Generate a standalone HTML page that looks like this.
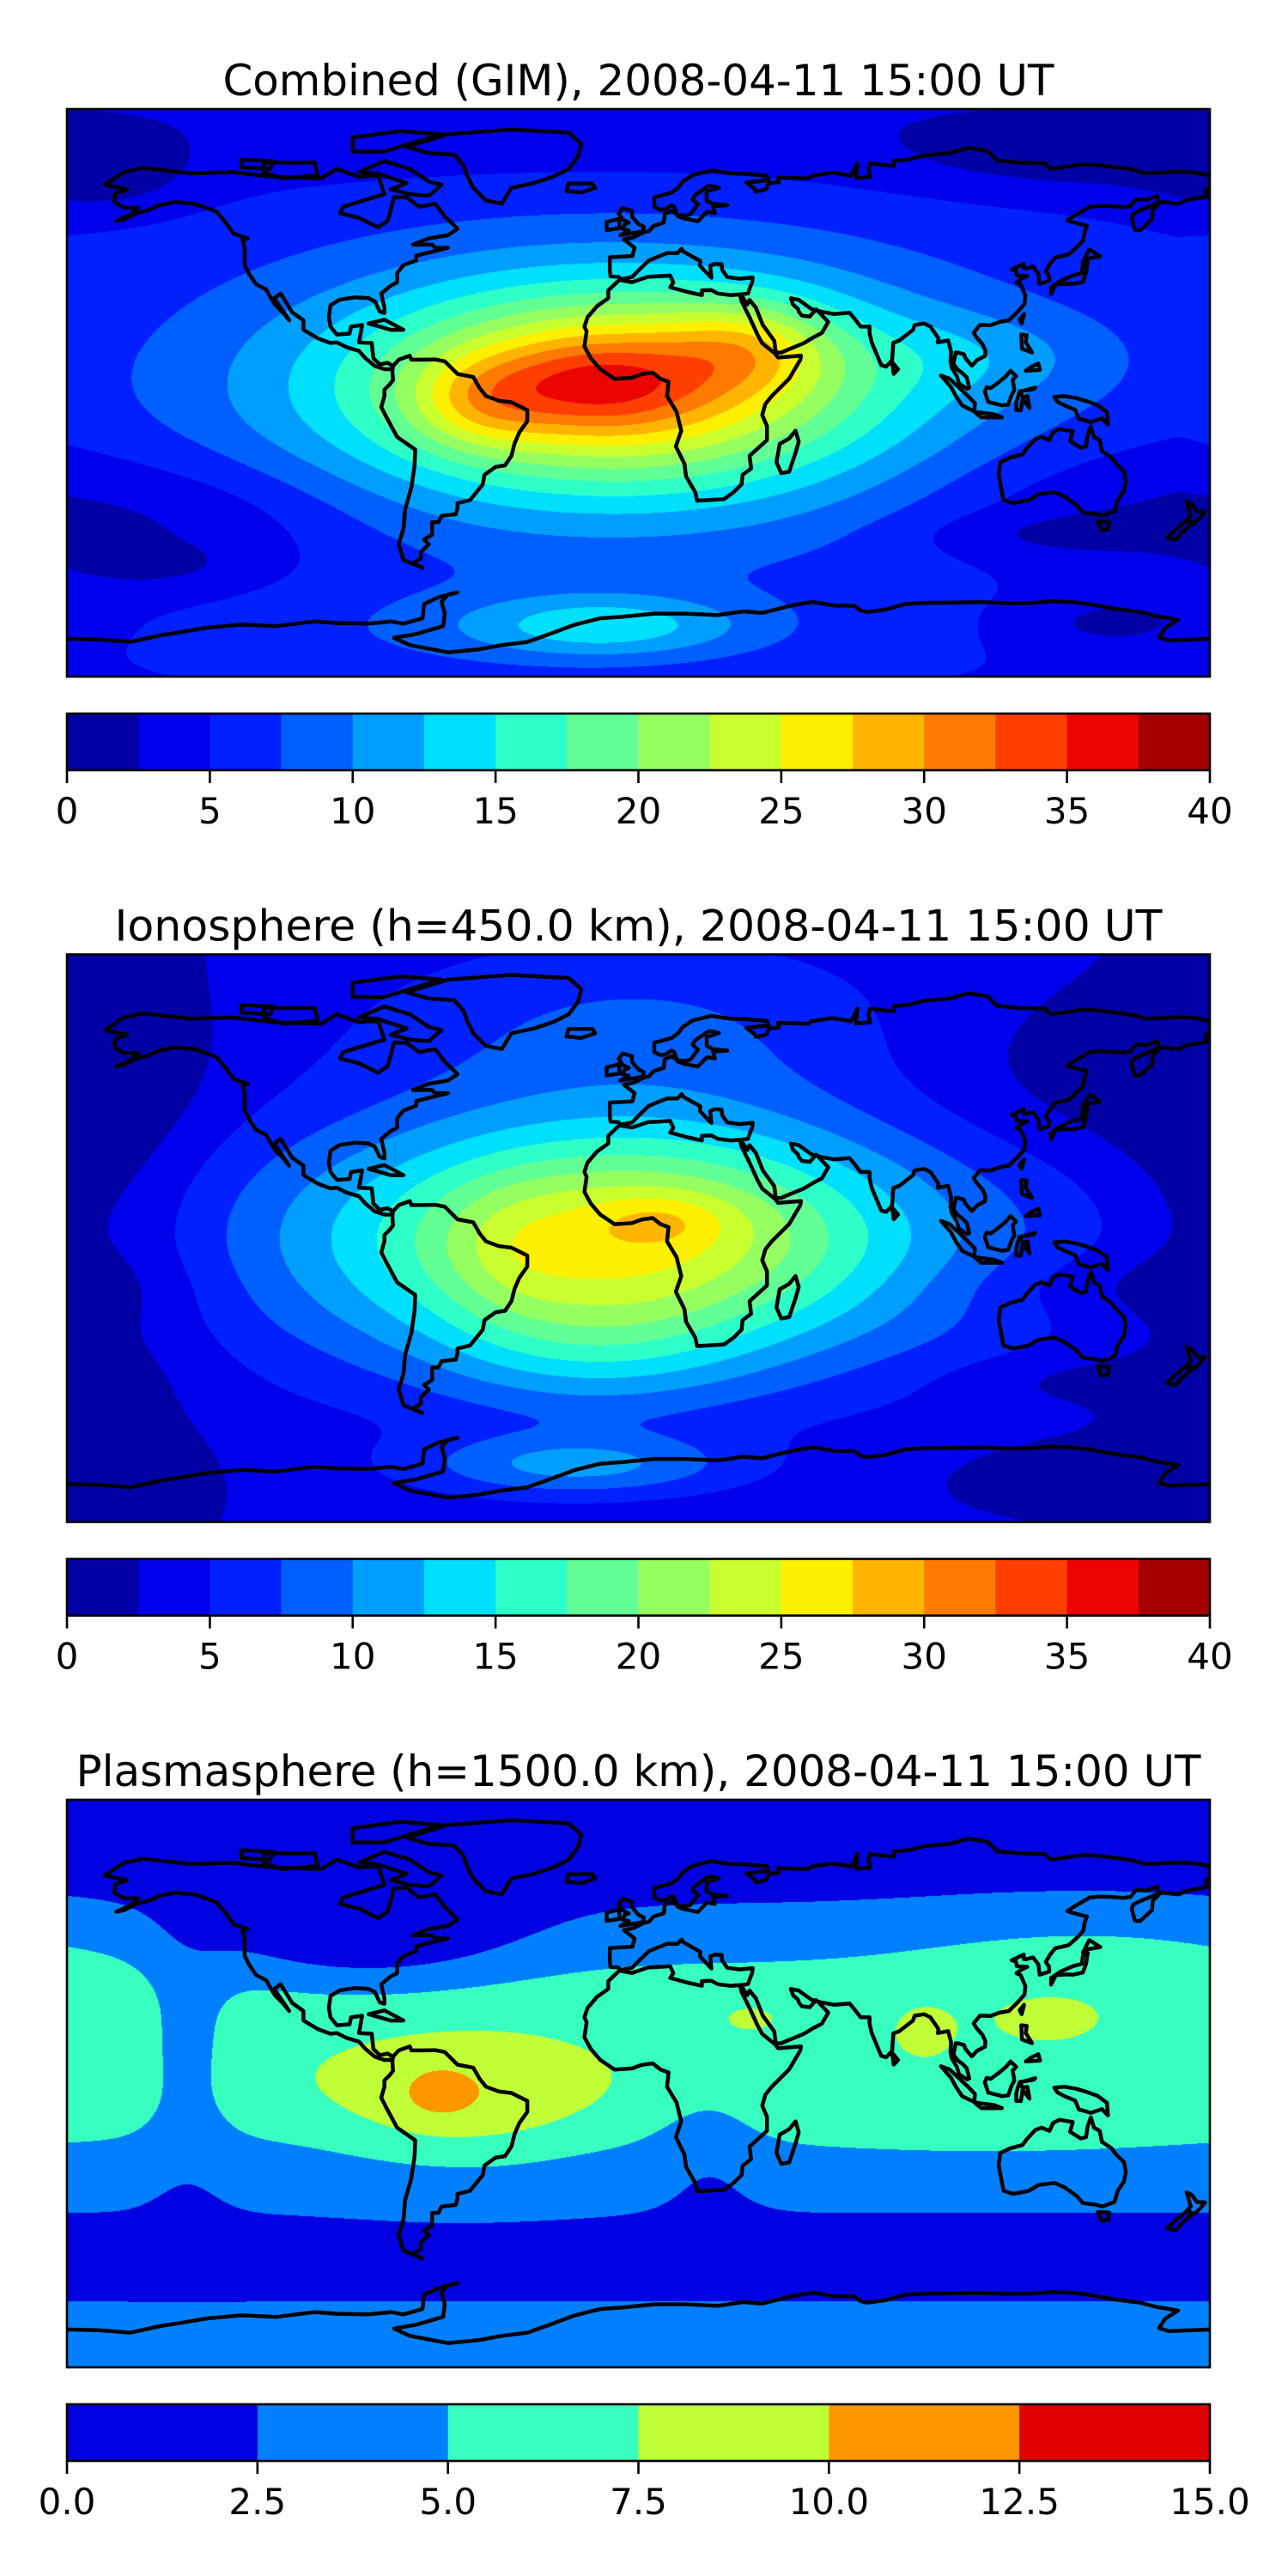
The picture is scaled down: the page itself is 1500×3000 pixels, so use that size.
<!DOCTYPE html>
<html><head><meta charset="utf-8">
<style>
html,body{margin:0;padding:0;background:#fff;}
#root{position:relative;width:1500px;height:3000px;overflow:hidden;background:#fff;}
canvas{position:absolute;}
svg{position:absolute;left:0;top:0;}
text{font-family:"DejaVu Sans","Liberation Sans",sans-serif;fill:#000;}
</style></head>
<body>
<div id="root">
<canvas id="c0" width="1331" height="661" style="left:78px;top:127px"></canvas>
<canvas id="c1" width="1331" height="661" style="left:78px;top:1111.5px"></canvas>
<canvas id="c2" width="1331" height="661" style="left:78px;top:2096px"></canvas>
<svg id="ov" width="1500" height="3000" viewBox="0 0 1500 3000"></svg>
</div>
<script>
// ---- data: combined (GIM) field blobs ----
const combBase = 4.8;
const combLon = [-10, -5, -14, -50, 35, 110, 0, 140, -170, -140, -155, 140, 130, 150, -10, -30];
const combLat = [0, 3, 3, -3, 15, 12, 88, 75, 68, -40, -55, -35, -45, -73, -74, -75];
const combAmp = [12.5, 14, 5.5, 5, 6, 2.5, -2, -3, -3, -3, -2, -2.5, -2, -3, 6, 3];
const combSx = [85, 50, 22, 15, 18, 30, 2000, 40, 20, 40, 20, 45, 30, 20, 30, 60];
const combSy = [32, 20, 10, 10, 10, 10, 15, 8, 8, 15, 5, 15, 5, 6, 7, 10];
// ---- data: ionosphere field blobs ----
const ionoBase = 3;
const ionoLon = [-10, -2, 8, -40, 0, -170, 150, 150, 140, 150, -20, -15];
const ionoLat = [0, 0, 6, -5, 70, 0, 50, -15, -45, -75, -72, -35];
const ionoAmp = [10, 13, 3, 2, 4, -3, -2.5, -2, -2, -2, 7, 4];
const ionoSx = [95, 55, 15, 15, 60, 25, 50, 40, 30, 40, 35, 35];
const ionoSy = [32, 24, 6, 15, 20, 80, 20, 8, 6, 10, 7, 15];
// ---- data: plasmasphere field blobs ----
const plasBase = 1;
const plasLon = [0, 0, 0, 0, -55, -63, -142, 22, -85, 35, 90, 128, 140, 110];
const plasLat = [-2, 28, 0, -85, -7, -3, 10, -15, 45, 21, 17, 20, 40, -12];
const plasAmp = [3, 3, 2, 3, 3.2, 1.8, -2.5, -1.5, -3.5, 1.3, 1.3, 1.3, 1.5, 1.5];
const plasSx = [20000, 20000, 20000, 20000, 30, 8, 10, 12, 35, 8, 8, 12, 40, 50];
const plasSy = [16, 16, 46, 10, 15, 6, 25, 14, 12, 4, 7, 5, 12, 8];
// ---- colorbar levels / ticks ----
const tecLevels = [0,2.5,5,7.5,10,12.5,15,17.5,20,22.5,25,27.5,30,32.5,35,37.5,40];
const tecTicks = [0,5,10,15,20,25,30,35,40];
const tecTickLabels = ["0","5","10","15","20","25","30","35","40"];
const plasLevels = [0,2.5,5,7.5,10,12.5,15];
const plasTicks = [0,2.5,5,7.5,10,12.5,15];
const plasTickLabels = ["0.0","2.5","5.0","7.5","10.0","12.5","15.0"];
const titles = ["Combined (GIM), 2008-04-11 15:00 UT","Ionosphere  (h=450.0 km), 2008-04-11 15:00 UT","Plasmasphere (h=1500.0 km), 2008-04-11 15:00 UT"];

// ---- layout ----
const MX0 = 78, MW = 1331, MH = 661;
const tops = [127, 1111.5, 2096];
const cbOff = 704, cbH = 66;
const titleW = [968, 1220, 1310];

function seg(x, pts){ for(let i=0;i<pts.length-1;i++){ if(x<=pts[i+1][0]){const t=(x-pts[i][0])/(pts[i+1][0]-pts[i][0]);return pts[i][1]+t*(pts[i+1][1]-pts[i][1]);} } return pts[pts.length-1][1]; }
function jet(t){
  const r=seg(t,[[0,0],[0.35,0],[0.66,1],[0.89,1],[1,0.5]]);
  const g=seg(t,[[0,0],[0.125,0],[0.375,1],[0.64,1],[0.91,0],[1,0]]);
  const b=seg(t,[[0,0.5],[0.11,1],[0.34,1],[0.65,0],[1,0]]);
  return [Math.round(r*255),Math.round(g*255),Math.round(b*255)];
}
function levelColors(levels){ const n=levels.length-1; const out=[]; for(let i=0;i<n;i++) out.push(jet((i+0.5)/n)); return out; }

function drawField(id, base, lons, lats, amps, sxs, sys, levels){
  const cv=document.getElementById(id), ctx=cv.getContext('2d');
  const img=ctx.createImageData(MW,MH), d=img.data;
  const cols=levelColors(levels), step=levels[1]-levels[0], n=cols.length;
  const nb=lons.length;
  for(let py=0;py<MH;py++){
    const lat=90-(py+0.5)/MH*180;
    const ey=[]; for(let k=0;k<nb;k++){const dy=(lat-lats[k])/sys[k]; ey.push(amps[k]*Math.exp(-0.5*dy*dy));}
    for(let px=0;px<MW;px++){
      const lon=-180+(px+0.5)/MW*360;
      let v=base;
      for(let k=0;k<nb;k++){ if(Math.abs(ey[k])<1e-4) continue; let dx=lon-lons[k]; if(dx>180)dx-=360; if(dx<-180)dx+=360; dx/=sxs[k]; v+=ey[k]*Math.exp(-0.5*dx*dx); }
      let li=Math.floor((v-levels[0])/step); if(li<0)li=0; if(li>n-1)li=n-1;
      const c=cols[li], o=(py*MW+px)*4; d[o]=c[0];d[o+1]=c[1];d[o+2]=c[2];d[o+3]=255;
    }
  }
  ctx.putImageData(img,0,0);
}
drawField('c0',combBase,combLon,combLat,combAmp,combSx,combSy,tecLevels);
drawField('c1',ionoBase,ionoLon,ionoLat,ionoAmp,ionoSx,ionoSy,tecLevels);
drawField('c2',plasBase,plasLon,plasLat,plasAmp,plasSx,plasSy,plasLevels);

// ---- coastlines (lon,lat) ----
const coasts = {
"north-america":[[-168,66],[-162,70],[-156,71.3],[-141,69.6],[-128,70],[-115,68.5],[-100,68],[-95,71],[-88,68.5],[-82,69],[-80,63],[-93,59],[-94,57],[-88,55.5],[-82,52.5],[-79,54.5],[-78,58],[-77,62],[-73,62],[-69,59],[-64,60],[-61,56],[-57,52],[-60,50],[-66,49],[-71,47],[-65,47],[-64,46],[-60,46],[-66,44.5],[-70,43.5],[-70,42],[-74,40.5],[-76,38],[-76,35],[-78,34],[-81,31.5],[-80,27],[-80,25.3],[-81.5,25.8],[-83,29],[-85,30],[-89,30.3],[-94,29.6],[-97,27.8],[-97.5,24],[-97,21],[-95,18.5],[-91,18.8],[-90.5,21],[-87,21.5],[-88,16],[-84,15.8],[-83.5,11],[-81.5,9],[-79,9.5],[-77.3,8.5],[-78,7.5],[-80,7.5],[-83,8.5],[-86,11],[-88,13.3],[-92,14.5],[-95,16],[-97,15.8],[-101,17.3],[-105.5,20],[-105.5,23],[-109,25.5],[-112.7,31.5],[-114.7,30],[-112,26],[-110,23],[-112,25.5],[-114.5,28],[-116,30.5],[-117.2,32.7],[-120.5,34.5],[-122.5,37.5],[-124,40.5],[-124,46],[-124.7,48.4],[-123,49],[-127.5,50.5],[-130,54],[-133,57.5],[-137,59],[-140,60],[-146,60.5],[-151,59.5],[-154,58],[-158,57],[-162,55],[-164.5,54.5],[-160,56.5],[-157.5,58.7],[-162,58.7],[-165,60.5],[-165,62.5],[-164.5,63.3],[-161,64.5],[-166,65.5],[-168,66]],
"greenland":[[-73,78],[-60,82],[-40,83.5],[-22,82.5],[-18,79],[-19,75],[-22,71],[-27,68.5],[-33,66.5],[-40,65],[-43,60],[-48,61],[-52,65],[-54,69],[-55,72],[-58,75.5],[-66,76],[-73,78]],
"baffin":[[-80,73.5],[-72,71],[-66,67],[-62,66],[-66,62.5],[-72,63],[-78,64.5],[-73,66.5],[-82,69.5],[-88,70],[-80,73.5]],
"victoria":[[-118,73],[-102,73],[-101,69],[-112,68],[-118,70],[-118,73]],
"ellesmere":[[-90,81],[-75,83],[-62,82],[-72,79],[-80,76.5],[-90,76.5],[-90,81]],
"banks":[[-125,74],[-115,73.5],[-116,71],[-125,71.5],[-125,74]],
"cuba":[[-85,22],[-80,23.2],[-74,20],[-78,20],[-85,22]],
"south-america":[[-77.3,8.5],[-75.5,10.5],[-72,11.8],[-71.5,10.5],[-68,10.5],[-64,10.6],[-61,10],[-57,6],[-52,5],[-50,1.5],[-48,-1],[-44,-2.5],[-40,-3],[-35,-5.5],[-35,-9],[-37.5,-12.5],[-39,-16],[-40,-20],[-42,-23],[-45,-23.5],[-48.5,-26],[-49,-29],[-51,-31.5],[-53,-34],[-57,-35],[-57,-36.5],[-57.5,-38.5],[-62,-39],[-63,-41],[-65,-41],[-65,-45],[-67.5,-46.5],[-66,-48],[-68.5,-50.5],[-68.5,-52.5],[-71,-54],[-68,-55.5],[-74,-53],[-75.5,-48],[-74,-43],[-73.5,-37],[-71.5,-30],[-70.5,-23],[-70.3,-18],[-76,-14],[-79.5,-7.5],[-81,-4.5],[-80,-1],[-80,1],[-78.5,2.5],[-77.3,4],[-77.5,7],[-77.3,8.5]],
"africa":[[-17,21],[-16,24],[-13,27.5],[-9.5,30],[-9.5,32.5],[-6,35.8],[-2,35.1],[3,36.8],[10,37.2],[11,35],[10,33.5],[15.5,32],[20,31],[20,32.5],[23,32.6],[25,31.5],[29,31],[32,31.2],[32.5,29],[35,24],[37.5,18.5],[39,15.7],[43,12.5],[44,11.2],[51.2,11.8],[51,10.5],[47.5,4.5],[42,-1],[40,-3.5],[39,-7],[40.5,-10.5],[40.5,-15],[35,-20],[35.5,-24],[32.8,-26],[32.5,-29],[30,-31.5],[27,-33.7],[22,-34],[18.5,-34.2],[17.9,-31.5],[15,-26.5],[14.5,-22.5],[11.8,-17],[13.5,-12],[12,-6],[9,-1],[9.5,3.5],[7,4.4],[4.5,6.4],[1,5.9],[-2,4.8],[-7.5,4.4],[-12,7.5],[-15,11],[-17,14.7],[-16.3,19.5],[-17,21]],
"madagascar":[[49.5,-12],[50.5,-15.5],[49.5,-19],[47.5,-25],[45,-25.5],[43.5,-22],[44.5,-16.2],[47.5,-14.5],[49.5,-12]],
"eurasia":[[-9,43],[-9,38.8],[-8.8,37],[-6.3,36.8],[-5.6,36],[-2,36.7],[0,38.8],[3.2,41.9],[6,43.1],[9,44.3],[12.3,44.3],[13.6,45.7],[14,44.9],[19.5,41.8],[19.4,40.3],[23,36.5],[22.6,40.3],[24,40.9],[26.2,40.8],[26.4,39],[28,36.7],[32,36.2],[36,36.6],[35.8,35],[35,33],[34.5,31.5],[32.3,31.2],[34.3,28],[35,29.5],[37,27],[39.2,21.5],[42.8,16.5],[43.3,12.7],[45,12.8],[49,14.5],[52,15.7],[55.5,17.8],[57.8,19],[59.8,22.5],[56.5,26],[56,26.5],[54,24.2],[51.5,24.5],[50.6,25.6],[50.2,26.7],[48.7,28],[48,30],[50.5,29.5],[54.5,26.6],[57.3,25.8],[61.5,25],[66.5,25.4],[68,23.6],[70,21],[72.8,21],[72.8,19],[73.5,16],[74.8,12.8],[76.5,8.8],[78,8.3],[79.9,10.3],[80.3,15.9],[82.2,16.6],[86.5,20],[87,21.5],[90,22],[92,21],[94.5,17.3],[94.3,16],[97.6,16.6],[98.5,13],[98.3,10],[98.7,8],[100.3,5.3],[101,3],[103.5,1.3],[104.2,1.6],[103.4,4.9],[102.1,6.2],[100.5,7.4],[99.2,9.2],[100,12.8],[101,12.7],[102.6,12.2],[103,11],[105,8.6],[106.7,10.4],[109.2,11.7],[109.3,13.4],[108.4,15.4],[106.5,17.6],[105.6,19.1],[107.6,21.5],[109.5,21.5],[110.8,21.4],[113.8,22.5],[116.7,23],[119.6,25.9],[121.6,28.2],[121.9,30.9],[120.4,34.4],[119.1,35],[120.6,36.1],[122.5,37],[119.2,37.2],[118.9,38.7],[117.6,39.1],[121.4,40.9],[121.4,39.5],[122,39.4],[124.3,40],[126,37.8],[126.4,34.5],[129.4,35.5],[129.4,37],[128.3,38.6],[129.7,40.9],[131.3,42.9],[135.5,43.9],[138.2,46.3],[140.1,48.4],[140.6,51.2],[141.3,53],[137.2,54],[135.1,54.7],[137.5,56.3],[142.2,59],[145.5,59.3],[148.5,59.2],[152.8,58.9],[155,59.2],[156.8,61.4],[160.1,61.2],[163.5,62.5],[164,59.9],[162,58],[161.8,55],[158,51.5],[156.4,51.7],[155.4,55.4],[155.9,56.8],[158.4,58],[163,59.9],[165,60.5],[170.3,60],[172.2,61],[179,62.3],[178.7,64.5],[180,65],[180,68.9],[175,69.9],[170,70.1],[160,69.6],[155,70.9],[150,71.6],[145,72.2],[140,72.5],[130,71],[128,72.8],[120,73],[113,73.7],[110,76.7],[104,77.7],[98,76],[90,75.3],[85,74],[80.5,73.6],[80.5,72],[77,72.3],[73,72.8],[72.5,71],[73,68.5],[68.5,68.1],[69,72.8],[67,68.8],[64.5,69.3],[61,69.8],[54.5,68.8],[53.7,68],[44,68.3],[44.2,66.8],[41,66.5],[40.3,64.6],[37,63.8],[36.5,64.8],[34,66.7],[41,67.5],[40.5,68.9],[33,69.5],[29,69.6],[23,70.5],[17,69],[14,67],[12.5,65],[10.5,63.5],[5,62],[5,59],[7,58],[8.5,58.3],[10.4,59.5],[11.3,59],[12.3,56.1],[14.1,55.4],[18.7,54.4],[21,56.8],[21.6,57.4],[24.1,57],[23.5,59.2],[28,59.5],[23.3,60],[21.5,61],[21.5,63.8],[25.4,65.1],[22.2,65.7],[17.8,62.7],[17.1,61.3],[18.8,59.8],[16.4,56.6],[14.7,56.2],[12.6,56.3],[10.5,57.7],[8.3,56.8],[8,54],[7,53.7],[4.7,52.9],[3.3,51.3],[1.6,50.9],[-1.6,49.3],[-4.6,48.7],[-1.2,46],[-1.9,43.4],[-9,43]],
"great-britain":[[-5,58.6],[-2,57.7],[-2,55.9],[0,53.5],[1.7,52.7],[1.4,51.2],[-5.7,50],[-3,51.5],[-5,52],[-4.3,53.5],[-3,54],[-5,55],[-6.2,56.8],[-5,58.6]],
"ireland":[[-6,55.2],[-6,52.2],[-10,51.6],[-10,54.2],[-6,55.2]],
"iceland":[[-22,66.4],[-14.5,66.4],[-13.6,65],[-18,63.5],[-22.7,64],[-22,66.4]],
"japan":[[130,31.4],[131.5,34.4],[135,34.6],[136.8,34.5],[140,35.2],[141,38],[141.5,41.4],[140,40.5],[139.7,38],[136.8,37.2],[133,35.5],[130,33.5],[130,31.4]],
"hokkaido":[[140,41.5],[141.5,42.6],[145.5,43.3],[142,45.5],[140,41.5]],
"sri-lanka":[[79.9,9.8],[81.8,7.5],[80.4,6],[79.9,9.8]],
"taiwan":[[121.5,25],[120.7,22],[120.1,23.3],[121.5,25]],
"luzon":[[120.6,18.5],[122.3,18.3],[122,16],[124,12.8],[120.8,14],[120.6,18.5]],
"mindanao":[[122,7],[126.5,7.3],[126,9.3],[123.8,8.3],[122,7]],
"borneo":[[109.7,1.8],[111,1.5],[113.8,3.6],[115.8,5.3],[117.2,7],[119,5.3],[117.9,4.1],[118.4,0.9],[117.5,-0.8],[116.5,-3.7],[114.6,-4],[110.2,-2.9],[109.1,0.4],[109.7,1.8]],
"sumatra":[[95.3,5.5],[98,4.5],[103.8,-1],[106,-3.3],[105.8,-5.8],[104,-5],[102,-4],[100,-1],[98.5,1.8],[95.3,5.5]],
"java":[[105.8,-6],[112,-6.8],[114.5,-7.8],[108,-7.8],[105.8,-6]],
"sulawesi":[[119,-5.5],[120.5,-5.5],[121,-2],[123.2,-4.8],[122.5,-1],[121,-1.4],[120.2,0.5],[124.5,1.2],[125,1.7],[120,0.3],[119,-3],[119,-5.5]],
"new-guinea":[[131,-1.3],[134.1,-1],[138,-1.7],[141,-2.6],[144.6,-3.9],[147.6,-6.1],[147.9,-10.1],[146,-8.1],[143.3,-9],[142.6,-9.3],[138.7,-8.2],[137.6,-5.4],[134,-3.9],[132,-2.8],[131,-1.3]],
"australia":[[114,-22],[113.5,-26],[115,-34],[118,-35],[123,-34],[126,-32.2],[131,-31.5],[134,-32.8],[138,-35.6],[140,-37.9],[144,-38.4],[146.3,-39],[150,-37.5],[151,-34],[153,-31],[153.5,-28],[153,-25],[150.5,-22.5],[149,-20.5],[146,-18.5],[145.3,-15],[143.5,-14],[142.5,-10.7],[141.5,-13.5],[141,-17],[139.3,-17.4],[136,-15.3],[136.8,-12.2],[132.6,-11.5],[130.6,-12.5],[129.5,-15],[127,-14],[125,-14.7],[122.2,-17.8],[121,-19.5],[117,-20.6],[114,-22]],
"tasmania":[[144.7,-40.7],[148.3,-40.9],[148,-43.2],[146,-43.6],[144.7,-40.7]],
"nz-north":[[172.7,-34.5],[174.3,-35.3],[176,-37.6],[178.5,-37.7],[177,-39.5],[175,-41.5],[173,-40],[174,-39],[172.7,-34.5]],
"nz-south":[[172.6,-40.5],[174.2,-41.7],[171,-44.5],[169.3,-46.6],[166.5,-46],[168.5,-44],[172.6,-40.5]],
"antarctica":[[-180,-78],[-170,-78.2],[-160,-79],[-150,-76.8],[-146,-76.2],[-136,-74.5],[-125,-73.5],[-114,-74],[-102,-72.5],[-95,-73],[-85,-73.2],[-78,-72.5],[-74,-73.2],[-68,-71.5],[-67.5,-67],[-63,-64.8],[-57,-63.3],[-60,-64],[-62,-66.2],[-61,-70],[-61.5,-74],[-70,-76.5],[-77,-77.7],[-72,-80],[-60,-82.3],[-50,-81.3],[-43,-80],[-35,-79],[-28,-76.5],[-20,-73.5],[-12,-71.5],[-5,-71],[5,-70],[15,-70],[25,-70.5],[33,-69.3],[39,-69.8],[48,-67.5],[55,-66.3],[62,-67.5],[68,-67.5],[70,-69],[72,-69.5],[78,-68.7],[84,-67],[90,-66.6],[100,-66.5],[108,-66.4],[116,-66.7],[124,-66.6],[130,-66.1],[136,-66.3],[142,-67],[150,-68.5],[158,-69.5],[163,-70.8],[170,-72],[166,-74.5],[164,-77.5],[167,-78.5],[180,-78]]
};

const NS='http://www.w3.org/2000/svg';
const ov=document.getElementById('ov');
function mk(tag, attrs, parent){ const e=document.createElementNS(NS,tag); for(const k in attrs) e.setAttribute(k,attrs[k]); (parent||ov).appendChild(e); return e; }

const defs=mk('defs',{});
const panelNames=['combined','ionosphere','plasmasphere'];
const levelSets=[tecLevels,tecLevels,plasLevels];
const tickSets=[tecTicks,tecTicks,plasTicks];
const tickLabelSets=[tecTickLabels,tecTickLabels,plasTickLabels];

for(let p=0;p<3;p++){
  const top=tops[p];
  const cp=mk('clipPath',{id:'clip'+p},defs);
  mk('rect',{x:MX0,y:top,width:MW,height:MH},cp);
  const px=lon=>MX0+(lon+180)/360*MW;
  const py=lat=>top+(90-lat)/180*MH;
  const g=mk('g',{'clip-path':'url(#clip'+p+')'});
  
  
  for(const name in coasts){
    const pts=coasts[name];
    let dstr='';
    pts.forEach((q,i)=>{ dstr+=(i?'L':'M')+px(q[0]).toFixed(1)+' '+py(q[1]).toFixed(1); });
    const path=mk('path',{d:dstr,fill:'none',stroke:'#000','stroke-width':4.5,'stroke-linejoin':'round','stroke-linecap':'round'},g);
    
    
  }
  const fr=mk('rect',{x:MX0,y:top,width:MW,height:MH,fill:'none',stroke:'#000','stroke-width':2.6});
  
  

  const t=mk('text',{x:MX0+MW/2,y:top-16,'text-anchor':'middle','font-size':50,textLength:titleW[p],lengthAdjust:'spacingAndGlyphs'});
  t.textContent=titles[p];
  
  

  const levels=levelSets[p], cols=levelColors(levels);
  const vmin=levels[0], vmax=levels[levels.length-1];
  const cx=v=>MX0+(v-vmin)/(vmax-vmin)*MW;
  const cbTop=top+cbOff;
  const cbg=mk('g',{});
  
  
  for(let i=0;i<cols.length;i++){
    const r=mk('rect',{x:cx(levels[i]),y:cbTop,width:cx(levels[i+1])-cx(levels[i])+0.5,height:cbH,fill:'rgb('+cols[i].join(',')+')'},cbg);
    
    
  }
  mk('rect',{x:MX0,y:cbTop,width:MW,height:cbH,fill:'none',stroke:'#000','stroke-width':2.6},cbg);
  const ticks=tickSets[p], labs=tickLabelSets[p];
  for(let i=0;i<ticks.length;i++){
    const x=cx(ticks[i]);
    const tk=mk('line',{x1:x,x2:x,y1:cbTop+cbH,y2:cbTop+cbH+15,stroke:'#000','stroke-width':2.6},cbg);
    
    
    const tl=mk('text',{x:x,y:cbTop+cbH+62,'text-anchor':'middle','font-size':42},cbg);
    tl.textContent=labs[i];
    
    
  }
}
</script>
</body></html>
